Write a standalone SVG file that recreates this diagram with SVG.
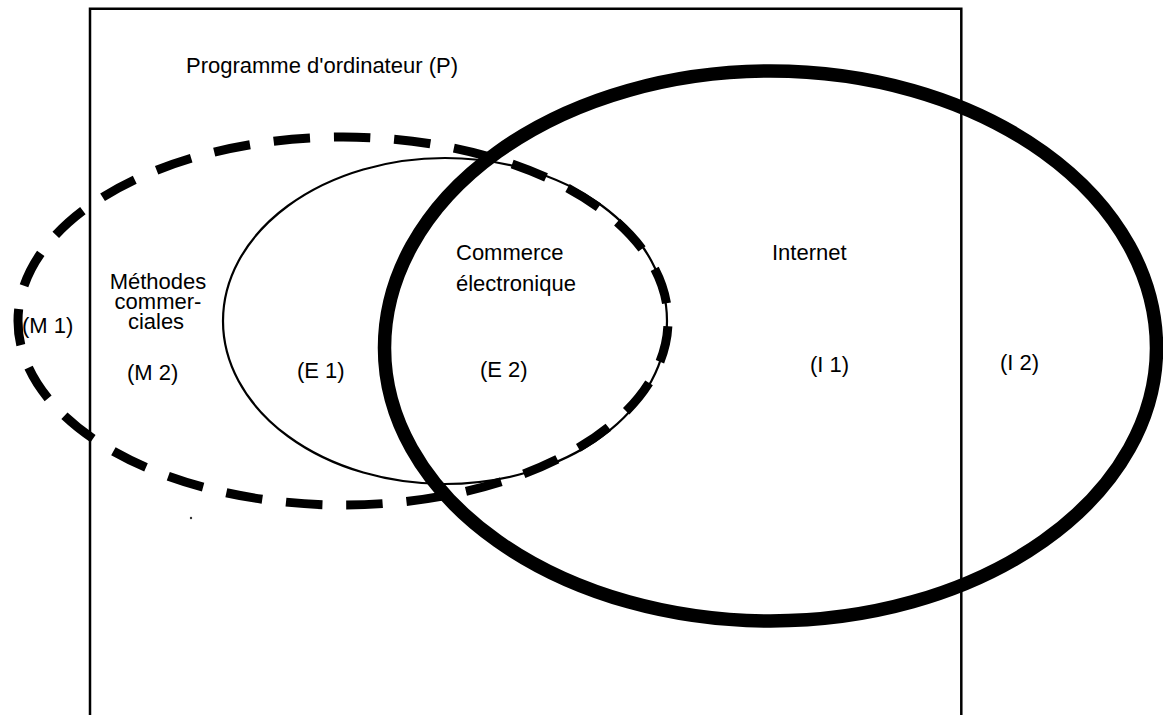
<svg xmlns="http://www.w3.org/2000/svg" width="1163" height="715" viewBox="0 0 1163 715">
  <style>
    .lbl { font-family: "Liberation Sans", Arial, sans-serif; font-size: 22px; fill: #000; }
    .frame { fill: none; stroke: #000; stroke-width: 2.5; }
    .dashed { fill: none; stroke: #000; stroke-width: 9; stroke-dasharray: 36.5 23.87; stroke-dashoffset: 55; }
    .thin { fill: none; stroke: #000; stroke-width: 2.2; }
    .thick { fill: none; stroke: #000; stroke-width: 13.5; }
  </style>
  <rect width="1163" height="715" fill="#fff"/>
  <g id="programme">
    <path class="frame" d="M90,716 V8.7 H961.3 V716"/>
    <text class="lbl" x="186" y="73">Programme d'ordinateur (P)</text>
    <text class="lbl" x="22" y="333">(M 1)</text>
    <text class="lbl" x="1000" y="370">(I 2)</text>
    <circle cx="191" cy="518" r="1.2" fill="#333"/>
  </g>
  <g id="methodes">
    <ellipse class="dashed" cx="343" cy="321" rx="325" ry="184"/>
    <text class="lbl" x="158" y="289" text-anchor="middle">Méthodes</text>
    <text class="lbl" x="158" y="309" text-anchor="middle">commer-</text>
    <text class="lbl" x="156" y="329" text-anchor="middle">ciales</text>
    <text class="lbl" x="127" y="380">(M 2)</text>
  </g>
  <g id="commerce">
    <ellipse class="thin" cx="445" cy="321" rx="222" ry="163"/>
    <text class="lbl" x="456" y="260">Commerce</text>
    <text class="lbl" x="456" y="291">électronique</text>
    <text class="lbl" x="297" y="378">(E 1)</text>
    <text class="lbl" x="480" y="377">(E 2)</text>
  </g>
  <g id="internet">
    <path class="thick" d="M384.5,348 A386 277 0 0 1 1156.5,348 A386 273 0 0 1 384.5,348 Z"/>
    <text class="lbl" x="772" y="260">Internet</text>
    <text class="lbl" x="810" y="372">(I 1)</text>
  </g>
  <g id="connectors"/>
</svg>
